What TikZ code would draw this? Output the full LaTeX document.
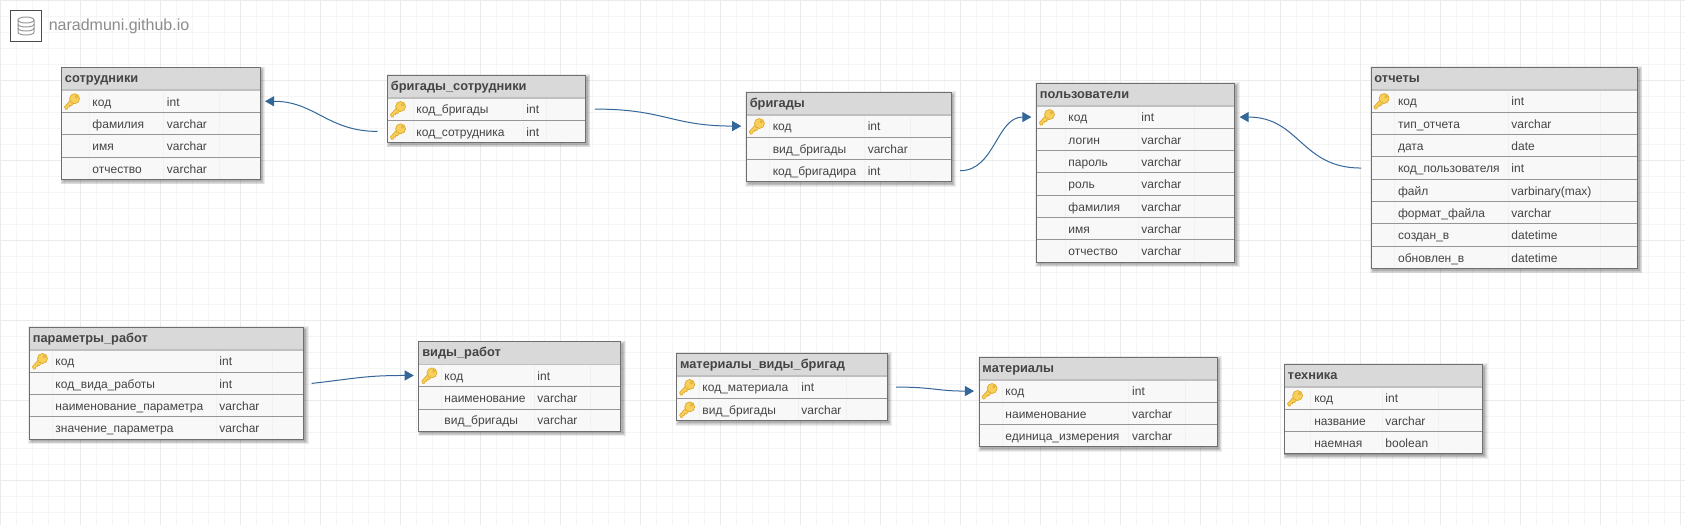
\documentclass[tikz,border=0pt]{standalone}
\usepackage{fontspec}
\setmainfont{Liberation Sans}
\usetikzlibrary{arrows.meta,backgrounds}

\definecolor{minorline}{HTML}{F5F5F5}
\definecolor{majorline}{HTML}{EBEBEB}
\definecolor{tablehead}{HTML}{D9D9D9}
\definecolor{tablerow}{HTML}{F8F8F8}
\definecolor{tableedge}{HTML}{6E6E6E}
\definecolor{rowedge}{HTML}{959595}
\definecolor{colline}{HTML}{F1F1F1}
\definecolor{inktext}{HTML}{444444}
\definecolor{linkblue}{HTML}{336699}
\definecolor{keygold}{HTML}{F8CF5A}
\definecolor{keyedge}{HTML}{DDAA2C}

% id, title, left, top, right, three column lines, rows name/type/key
\newcommand{\dbtable}[9]{%
    \pgfmathsetmacro\tablewidth{(#5-#3)*0.75}
    \node[headcell, minimum width=\tablewidth pt] (#1-h) at (#3,#4) {};
    \node[headtext] (#1-t) at (#3+3.2,#4+15.2) {#2};
    \foreach \rowname/\rowtype/\rowkey [count=\i] in {#9} {
        \pgfmathsetmacro\rowtop{#4+22.6+(\i-1)*22.33}
        \node[rowcell, minimum width=\tablewidth pt] (#1-\i) at (#3,\rowtop) {};
        \foreach \colx in {#6,#7,#8}
            \draw[coldiv] (\colx,\rowtop+1) -- (\colx,\rowtop+21.5);
        \ifnum\rowkey=1 \pic at (#3+10.5,\rowtop+11.2) {keyicon}; \fi
        \node[rowtext] (#1-\i-n) at (#6+3.2,\rowtop+16) {\rowname};
        \node[rowtext] (#1-\i-k) at (#7+3.2,\rowtop+16) {\rowtype};
        \xdef\lastrow{\i}
    }
    \draw[headdiv] (#1-h.south west) -- (#1-h.south east);
    \draw[outline] (#1-h.north west) rectangle (#1-\lastrow.south east);
    \begin{scope}[on background layer]
        \foreach \s in {4,3,2,1,0}
            \fill[black, opacity=0.07]
                ([xshift=1.5pt-\s*0.55pt, yshift=\s*0.55pt-1.5pt]#1-h.north west) rectangle
                ([xshift=1.5pt+\s*0.55pt, yshift=-1.5pt-\s*0.55pt]#1-\lastrow.south east);
    \end{scope}
}

\begin{document}
\begin{tikzpicture}[x=0.75pt, y=-0.75pt,
        headcell/.style = {rectangle, anchor=north west, fill=tablehead, inner sep=0pt,
                           outer sep=0pt, minimum height=16.95pt},
        rowcell/.style  = {rectangle, anchor=north west, fill=tablerow, draw=rowedge,
                           line width=0.6pt, inner sep=0pt, outer sep=0pt, minimum height=16.75pt},
        headtext/.style = {anchor=base west, inner sep=0pt, font=\bfseries\fontsize{9.6}{11}\selectfont,
                           text=inktext},
        rowtext/.style  = {anchor=base west, inner sep=0pt, font=\fontsize{9}{11}\selectfont,
                           text=inktext},
        headdiv/.style  = {draw=black!25, line width=1.2pt},
        outline/.style  = {draw=tableedge, line width=0.75pt},
        coldiv/.style   = {draw=colline, line width=0.6pt},
        fklink/.style   = {draw=linkblue, line width=0.75pt,
                           -{Triangle[length=6.8pt,width=7.5pt,fill=linkblue]}},
        logobox/.style  = {rectangle, draw=black!70, line width=0.9pt, fill=white,
                           minimum size=23.4pt, inner sep=0pt},
        dbicon/.style   = {draw=black!40, line width=0.75pt, fill=none},
        keyicon/.pic    = {
            \draw[draw=keyedge, fill=keygold, line width=0.5pt, line join=round]
                (-7.5,5.5) -- (-1.5,-1.2) -- (1.6,2) -- (-0.8,4.6) -- (-2.4,3.8) -- (-2.6,5.8)
                -- (-4.4,5.8) -- (-4.4,7.6) -- (-6.4,8) -- cycle;
            \draw[draw=keyedge, fill=keygold, line width=0.5pt, even odd rule]
                (2.6,-2.6) circle [radius=5] (4.4,-4.4) circle [radius=1.1];
        }
    ]
    \useasboundingbox (0,0) rectangle (1685,525);

    % paper grid
    \begin{scope}[on background layer]
        \fill[white] (0,0) rectangle (1685,525);
        \foreach \g in {0,16,...,1680} \draw[minorline, line width=0.75pt] (\g,0) -- (\g,525);
        \foreach \g in {0,16,...,520}  \draw[minorline, line width=0.75pt] (0,\g) -- (1685,\g);
        \foreach \g in {0,80,...,1680} \draw[majorline, line width=0.75pt] (\g,0) -- (\g,525);
        \foreach \g in {0,80,...,520}  \draw[majorline, line width=0.75pt] (0,\g) -- (1685,\g);
    \end{scope}

    % logo
    \node[logobox] (logo) at (26,26) {};
    \node[anchor=base west, inner sep=0pt, text=black!45, font=\fontsize{12}{14}\selectfont]
        (site) at (48.5,30.7) {naradmuni.github.io};
    \draw[dbicon] (26,20) ellipse [x radius=8, y radius=3];
    \draw[dbicon] (18,20) -- (18,32) .. controls (18,36) and (34,36) .. (34,32) -- (34,20);
    \draw[dbicon] (18,24) .. controls (18,28) and (34,28) .. (34,24);
    \draw[dbicon] (18,28) .. controls (18,32) and (34,32) .. (34,28);

    % tables, upper row
    \dbtable{sotr}{сотрудники}{61.5}{67.5}{260}{89}{163.5}{219}
        {код/int/1,фамилия/varchar/0,имя/varchar/0,отчество/varchar/0}
    \dbtable{brsotr}{бригады\_сотрудники}{387.5}{75.3}{585.5}{413}{523}{546}
        {код\_бригады/int/1,код\_сотрудника/int/1}
    \dbtable{brig}{бригады}{746.3}{92.3}{951}{769.3}{864.3}{910.7}
        {код/int/1,вид\_бригады/varchar/0,код\_бригадира/int/0}
    \dbtable{polz}{пользователи}{1036.4}{83.3}{1234.6}{1065}{1138}{1194}
        {код/int/1,логин/varchar/0,пароль/varchar/0,роль/varchar/0,фамилия/varchar/0,имя/varchar/0,отчество/varchar/0}
    \dbtable{otch}{отчеты}{1371}{67.3}{1637.5}{1394.6}{1508}{1600}
        {код/int/1,тип\_отчета/varchar/0,дата/date/0,код\_пользователя/int/0,файл/varbinary(max)/0,формат\_файла/varchar/0,создан\_в/datetime/0,обновлен\_в/datetime/0}

    % tables, lower row
    \dbtable{par}{параметры\_работ}{29.4}{327.3}{303.7}{52}{216}{272}
        {код/int/1,код\_вида\_работы/int/0,наименование\_параметра/varchar/0,значение\_параметра/varchar/0}
    \dbtable{vidy}{виды\_работ}{418.8}{341.7}{620.8}{441}{534}{590}
        {код/int/1,наименование/varchar/0,вид\_бригады/varchar/0}
    \dbtable{matv}{материалы\_виды\_бригад}{676.6}{353.3}{887}{699}{798}{846}
        {код\_материала/int/1,вид\_бригады/varchar/1}
    \dbtable{mat}{материалы}{979}{357.3}{1217}{1002}{1128.7}{1185}
        {код/int/1,наименование/varchar/0,единица\_измерения/varchar/0}
    \dbtable{tech}{техника}{1284.5}{364.3}{1482.7}{1310.8}{1382}{1438}
        {код/int/1,название/varchar/0,наемная/boolean/0}

    % foreign keys
    \draw[fklink] ([xshift=-7.5pt]brsotr-2.west) .. controls +(-50,0) and +(50,0) .. ([xshift=3.75pt]sotr-1.east);
    \draw[fklink] ([xshift=7pt]brsotr-1.east) .. controls +(70,0) and +(-70,0) .. ([xshift=-3.75pt]brig-1.west);
    \draw[fklink] ([xshift=6.75pt]brig-3.east) .. controls +(35,0) and +(-35,0) .. ([xshift=-3.75pt]polz-1.west);
    \draw[fklink] ([xshift=-7.5pt]otch-4.west) .. controls +(-60,0) and +(60,0) .. ([xshift=3.75pt]polz-1.east);
    \draw[fklink] ([xshift=6pt]par-2.east) .. controls +(45,-5) and +(-50,0) .. ([xshift=-3.75pt]vidy-1.west);
    \draw[fklink] ([xshift=6.75pt]matv-1.east) .. controls +(38,0) and +(-38,0) .. ([xshift=-3.75pt]mat-1.west);
\end{tikzpicture}
\end{document}
